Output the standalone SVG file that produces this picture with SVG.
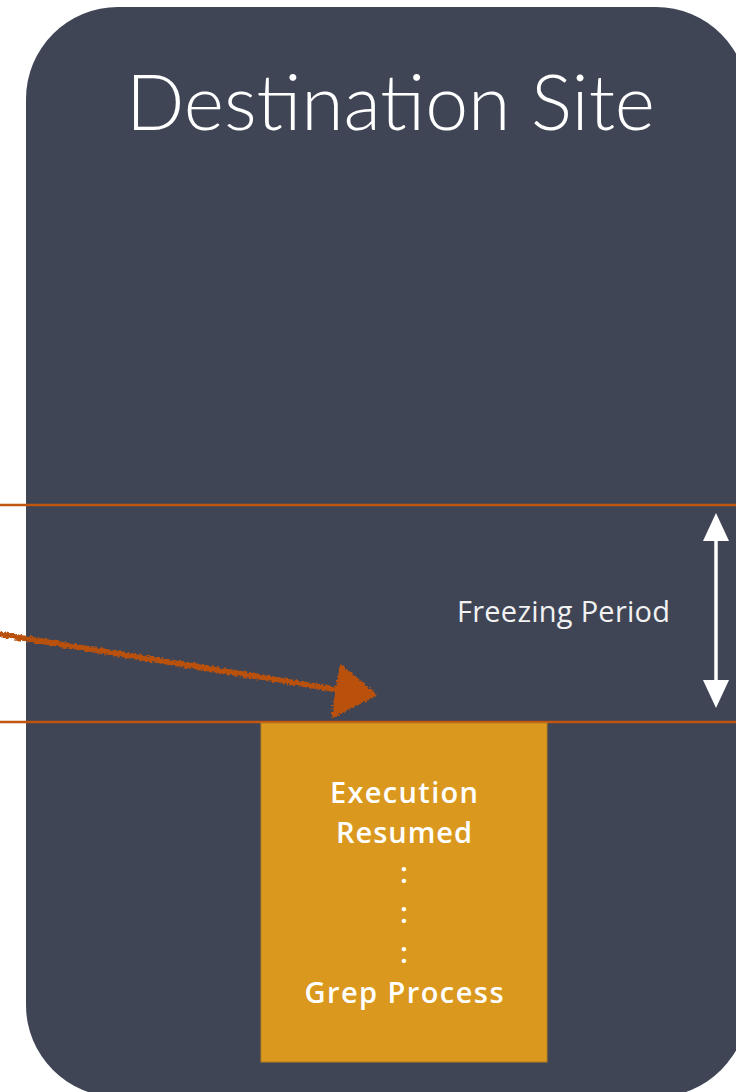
<svg xmlns="http://www.w3.org/2000/svg" width="736" height="1092" viewBox="0 0 736 1092">
  <style>
    .title { font-family: Lato, "Open Sans", "Liberation Sans", sans-serif; font-weight: 300; font-size: 77px; fill: #ffffff; }
    .label { font-family: "Open Sans", Lato, "Liberation Sans", sans-serif; font-size: 29px; fill: #f2f2f2; }
    .box-text { font-family: "Open Sans", Lato, "Liberation Sans", sans-serif; font-weight: 600; font-size: 29px; fill: #ffffff; text-anchor: middle; }
    .hline { stroke: #c0560f; stroke-width: 2.5; }
  </style>
  <defs>
    <filter id="rough" x="-5%" y="-20%" width="110%" height="140%">
      <feTurbulence type="fractalNoise" baseFrequency="0.4" numOctaves="2" seed="3" result="n"/>
      <feDisplacementMap in="SourceGraphic" in2="n" scale="5" xChannelSelector="R" yChannelSelector="G"/>
    </filter>
  </defs>

  <rect width="736" height="1092" fill="#ffffff"/>

  <g id="destination-site">
    <rect x="26" y="7" width="722" height="1090" rx="92" ry="92" fill="#3f4555"/>
    <text class="title" x="126" y="130" textLength="529" lengthAdjust="spacing">Destination Site</text>
  </g>

  <g id="freezing-lines">
    <line class="hline" x1="0" y1="505" x2="736" y2="505"/>
    <line class="hline" x1="0" y1="722" x2="736" y2="722"/>
  </g>

  <g id="freezing-period">
    <text class="label" x="457" y="622" textLength="213" lengthAdjust="spacing">Freezing Period</text>
  </g>

  <g id="execution-resumed">
    <rect x="261" y="723" width="286" height="339" fill="#da991e" stroke="#b8801c" stroke-width="1"/>
    <text class="box-text" x="404" y="803" textLength="148" lengthAdjust="spacing">Execution</text>
    <text class="box-text" x="404" y="843" textLength="136" lengthAdjust="spacing">Resumed</text>
    <text class="box-text" x="404" y="883">:</text>
    <text class="box-text" x="404" y="923">:</text>
    <text class="box-text" x="404" y="963">:</text>
    <text class="box-text" x="404" y="1003" textLength="199" lengthAdjust="spacing">Grep Process</text>
  </g>

  <g id="connectors">
    <g id="freeze-span" fill="#ffffff">
      <rect x="714.25" y="538" width="3.5" height="145"/>
      <polygon points="716,513 729,541 703,541"/>
      <polygon points="716,708 729,680 703,680"/>
    </g>
    <g id="migration-arrow" filter="url(#rough)" fill="#b9510e" stroke="#b9510e">
      <line x1="-2" y1="634" x2="345" y2="691" stroke-width="5.5"/>
      <path d="M341,666 L375,695 L333,716 Z" stroke-width="3" stroke-linejoin="round"/>
    </g>
  </g>
</svg>
